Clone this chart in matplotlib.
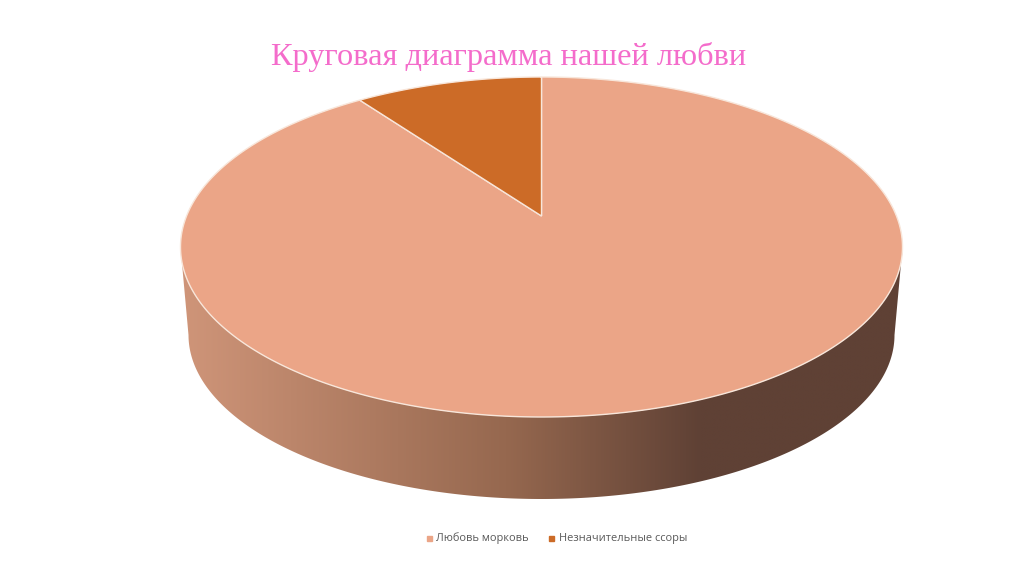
import numpy as np
import matplotlib
matplotlib.use("Agg")
import matplotlib.pyplot as plt
from matplotlib.colors import LinearSegmentedColormap
from matplotlib.lines import Line2D
from matplotlib.patches import Polygon
from matplotlib.path import Path
from matplotlib.transforms import Transform

TITLE = "Круговая диаграмма нашей любви"
categories = ["Любовь морковь", "Незначительные ссоры"]
values = [90, 10]
colors = ["#EBA587", "#CC6B27"]
wall_stops = [(0.0, "#CF9579"), (0.45, "#96684F"), (0.72, "#5F4135"), (1.0, "#5F4135")]

W, H = 1024, 574
CX, TOP_CY, RX, RY = 541.5, 247.0, 361.0, 170.0
APEX_CY = 216.0
BOT_CY, BOT_RX, BOT_RY = 335.0, 353.0, 164.0


class Perspective(Transform):
    """Tilted-disc projection: unit circle -> ellipse, with the centre moved toward the far edge."""
    input_dims = output_dims = 2
    is_separable = False
    has_inverse = False

    def __init__(self):
        super().__init__()
        self.b = TOP_CY - APEX_CY
        self.k = self.b / RY
        self.c = RX * np.sqrt(1 - self.k ** 2)

    def transform_non_affine(self, pts):
        pts = np.asarray(pts, float)
        u, v = pts[:, 0], pts[:, 1]
        d = 1 + self.k * v
        x = CX + self.c * u / d
        y = (H - TOP_CY) + (RY * v + self.b) / d
        return np.column_stack([x, y])

    def transform_path_non_affine(self, path):
        # flatten the Bezier arcs first so that the projection bends them smoothly
        pts = []
        for seg, code in path.iter_bezier():
            if code == Path.MOVETO:
                pts.append(seg(np.array([0.0])))
            else:
                pts.append(seg(np.linspace(0, 1, 24)[1:]))
        return Path(self.transform_non_affine(np.vstack(pts)))


plt.rcParams["font.family"] = ["Open Sans", "DejaVu Sans"]
fig = plt.figure(figsize=(W / 100, H / 100), dpi=100, facecolor="white")
ax = fig.add_axes([0, 0, 1, 1])

wedges, _ = ax.pie(values, colors=colors, startangle=90, counterclock=False,
                   wedgeprops=dict(edgecolor="#F8E6DA", linewidth=1.0, zorder=3))
proj = Perspective()
for w in wedges:
    w.set_transform(proj + ax.transData)

ax.set_aspect("auto")
ax.set_xlim(0, W)
ax.set_ylim(0, H)
ax.axis("off")

# extruded side wall, horizontal gradient clipped to the hull of top and bottom rims
t = np.linspace(np.pi, 2 * np.pi, 300)
lower = np.column_stack([CX + BOT_RX * np.cos(t), (H - BOT_CY) + BOT_RY * np.sin(t)])
upper = np.column_stack([CX + RX * np.cos(t[::-1]), (H - TOP_CY) + RY * np.sin(t[::-1])])
hull = Polygon(np.vstack([lower, upper]), closed=True, transform=ax.transData,
               facecolor="none", edgecolor="none")
ax.add_patch(hull)
cmap = LinearSegmentedColormap.from_list("wall", wall_stops)
grad = np.linspace(0, 1, 512)[None, :]
im = ax.imshow(grad, cmap=cmap, aspect="auto", zorder=1, interpolation="bilinear",
               extent=(CX - RX, CX + RX, H - 505, H - 240))
im.set_clip_path(hull)
ax.set_xlim(0, W)
ax.set_ylim(0, H)

fig.text(509 / W, 1 - 57 / H, TITLE, color="#F46CCB", fontsize=23.3, ha="center", va="center",
         family=["Liberation Serif", "DejaVu Serif"])

handles = [Line2D([], [], linestyle="none", marker="s", markersize=3.6, color=c) for c in colors]
fig.legend(handles, categories, loc="center", bbox_to_anchor=(555 / W, 1 - 538.5 / H), ncol=2,
           frameon=False, fontsize=7.9, labelcolor="#595959", handletextpad=0.15,
           columnspacing=1.6, handlelength=1.0)

fig.savefig("out.png", dpi=100, facecolor="white")
